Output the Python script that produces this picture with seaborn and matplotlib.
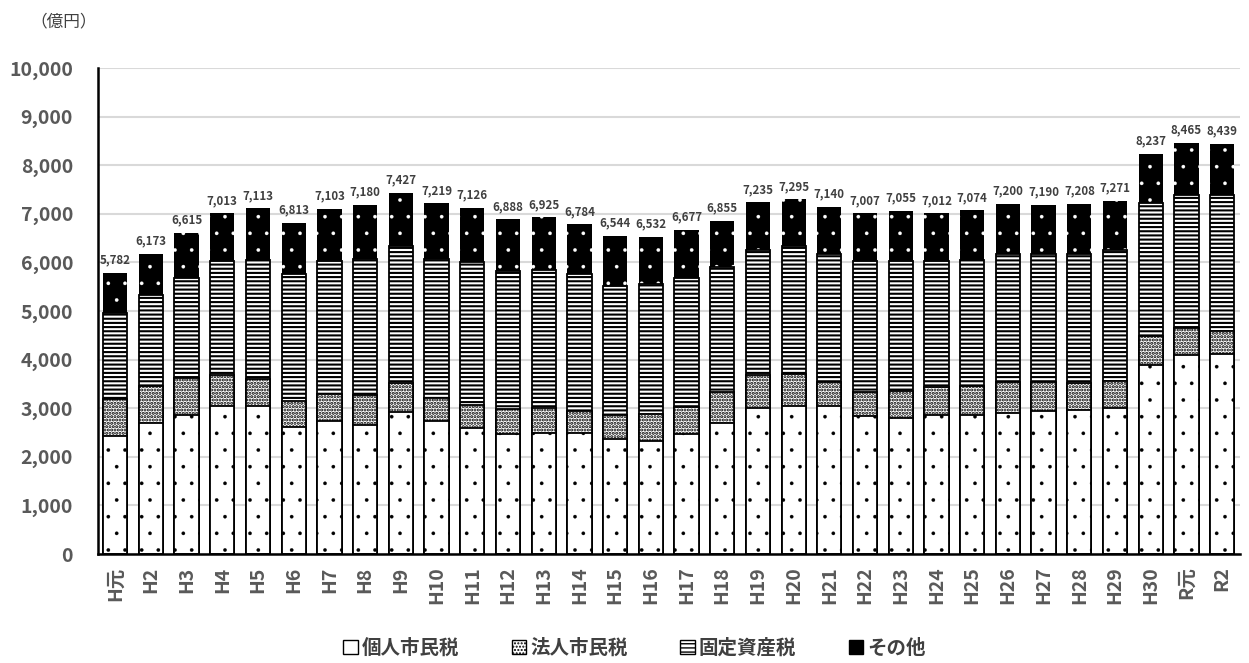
import matplotlib
matplotlib.use('Agg')
import numpy as np
import pandas as pd
import matplotlib.pyplot as plt
import seaborn as sns
from matplotlib.patches import Patch

years = ['H元', 'H2', 'H3', 'H4', 'H5', 'H6', 'H7', 'H8', 'H9', 'H10', 'H11', 'H12',
         'H13', 'H14', 'H15', 'H16', 'H17', 'H18', 'H19', 'H20', 'H21', 'H22', 'H23',
         'H24', 'H25', 'H26', 'H27', 'H28', 'H29', 'H30', 'R元', 'R2']
personal = [2420, 2690, 2870, 3050, 3050, 2610, 2740, 2660, 2930, 2730, 2590, 2470,
            2500, 2500, 2370, 2330, 2460, 2690, 3000, 3050, 3050, 2830, 2790,
            2860, 2870, 2900, 2950, 2970, 3000, 3880, 4090, 4120]
corporate = [770, 770, 760, 640, 550, 540, 550, 620, 590, 490, 480, 510,
             500, 440, 480, 550, 560, 650, 690, 660, 480, 510, 560,
             570, 580, 630, 580, 540, 550, 610, 570, 470]
fixed = [1760, 1860, 2050, 2330, 2450, 2610, 2730, 2790, 2820, 2860, 2940, 2850,
         2850, 2820, 2660, 2680, 2660, 2560, 2560, 2620, 2640, 2680, 2680,
         2600, 2600, 2640, 2640, 2660, 2700, 2730, 2730, 2800]
other = [832, 853, 935, 993, 1063, 1053, 1083, 1110, 1087, 1139, 1116, 1058,
         1075, 1024, 1034, 972, 997, 955, 985, 965, 970, 987, 1025,
         982, 1024, 1030, 1020, 1038, 1021, 1017, 1075, 1049]
series_names = ['個人市民税', '法人市民税', '固定資産税', 'その他']
unit_label = '（億円）'

sns.set_theme(style='white')
FONT = ['Noto Sans CJK JP', 'DejaVu Sans']
plt.rcParams['font.family'] = FONT

df = pd.DataFrame({'year': years, 'personal': personal, 'corporate': corporate,
                   'fixed': fixed, 'other': other})
df['c1'] = df['personal']
df['c2'] = df['c1'] + df['corporate']
df['c3'] = df['c2'] + df['fixed']
df['c4'] = df['c3'] + df['other']

fig = plt.figure(figsize=(12.49, 6.63), dpi=100)
ax = fig.add_axes([0.0785, 0.1644, 0.9143, 0.733])

layers = [
    ('c4', 'black', '.', 'white', 0.0, 0.2),
    ('c3', 'white', '----', 'black', 1.3, 1.5),
    ('c2', 'white', '.....', 'black', 1.3, 1.5),
    ('c1', 'white', '.', 'black', 1.3, 0.2),
]
for col, fc, hatch, hc, lw, hlw in layers:
    plt.rcParams['hatch.linewidth'] = hlw
    n_before = len(ax.patches)
    sns.barplot(data=df, x='year', y=col, order=years, color=fc, saturation=1,
                width=0.68, errorbar=None, ax=ax)
    for p in ax.patches[n_before:]:
        p.set_hatch(hatch)
        p.set_edgecolor(hc)
        p.set_linewidth(lw)
        if hasattr(p, 'set_hatch_linewidth'):
            p.set_hatch_linewidth(hlw)

for i, t in enumerate(df['c4']):
    ax.text(i, t + 130, f'{t:,}', ha='center', va='bottom', fontsize=8.3,
            fontweight='bold', color='#404040')

ax.set_ylim(0, 10000)
ax.set_xlim(-0.48, len(years) - 0.5)
ax.set_yticks(range(0, 10001, 1000))
ax.set_yticklabels([f'{v:,}' for v in range(0, 10001, 1000)])
ax.yaxis.grid(True, color='#d9d9d9', linewidth=1.5)
ax.xaxis.grid(False)
ax.set_axisbelow(True)
ax.set_xlabel('')
ax.set_ylabel('')
for s in ['top', 'right']:
    ax.spines[s].set_visible(False)
for s in ['left', 'bottom']:
    ax.spines[s].set_color('black')
    ax.spines[s].set_linewidth(1.8)
ax.tick_params(axis='y', length=0, pad=18, labelsize=14, labelcolor='#595959')
ax.tick_params(axis='x', length=0, pad=9, labelsize=14, labelcolor='#595959',
               labelrotation=90)
for lab in ax.get_yticklabels() + ax.get_xticklabels():
    lab.set_fontweight('bold')

fig.text(0.024, 0.967, unit_label, fontsize=12, color='#404040', va='center')

plt.rcParams['hatch.linewidth'] = 1.0
handles = [
    Patch(facecolor='white', edgecolor='black', linewidth=1.0),
    Patch(facecolor='white', edgecolor='black', hatch='.....', linewidth=1.0),
    Patch(facecolor='white', edgecolor='black', hatch='----', linewidth=1.0),
    Patch(facecolor='black', edgecolor='black', linewidth=1.0),
]
leg = fig.legend(handles, series_names, loc='center', bbox_to_anchor=(0.508, 0.023),
                 ncol=4, frameon=False, handlelength=0.75, handleheight=0.75,
                 handletextpad=0.2, columnspacing=2.7,
                 prop={'family': FONT, 'weight': 'bold', 'size': 14})
for t in leg.get_texts():
    t.set_color('#404040')

fig.savefig('out.png', dpi=100)
